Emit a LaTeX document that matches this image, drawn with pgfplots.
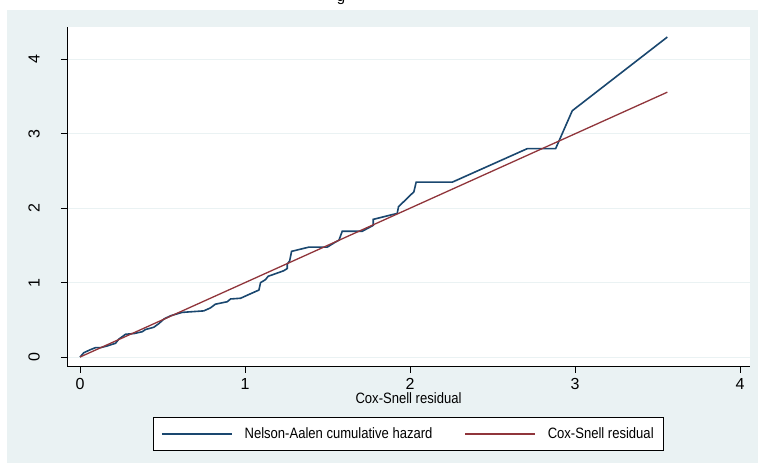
\documentclass[border=0pt]{standalone}
\usepackage{fontspec}
\setmainfont{Liberation Sans}
\newfontfamily\condensed[FakeStretch=0.87]{Liberation Sans}
\usepackage{pgfplots}
\pgfplotsset{compat=1.18}
\definecolor{sNavy}{RGB}{26,71,111}
\definecolor{sMaroon}{RGB}{144,53,59}
\definecolor{sBg}{RGB}{234,242,243}
\definecolor{sGrid}{RGB}{234,242,243}
\begin{document}
\begin{tikzpicture}[x=1pt,y=1pt]
\useasboundingbox (0,0) rectangle (758,463);
\fill[white] (0,0) rectangle (758,463);
\fill[sBg] (7,0) rectangle (758,453);
\node[font=\fontsize{15}{15}\selectfont, anchor=base, inner sep=0pt] at (341,461) {g};
\begin{axis}[
  at={(67pt,96.3pt)}, anchor=south west,
  scale only axis, width=683pt, height=339.7pt,
  xmin=-0.079, xmax=4.06, ymin=-0.13, ymax=4.435,
  axis x line*=bottom, axis y line*=left,
  axis line style={black, line width=0.9pt, -},
  axis background/.style={fill=white},
  xtick={0,1,2,3,4}, ytick={0,1,2,3,4},
  tick align=outside, major tick length=6pt,
  tick style={black, line width=0.9pt},
  ymajorgrids, grid style={sGrid, line width=1pt},
  /pgf/number format/assume math mode=true,
  ticklabel style={font=\fontsize{16}{16}\selectfont},
  xticklabel style={anchor=center, inner sep=0pt, yshift=-11.3pt},
  yticklabel style={xshift=-27pt, rotate=90, anchor=center, inner sep=0pt},
  xlabel={Cox-Snell residual},
  xlabel style={at={(axis description cs:0.5,-0.092)}, anchor=center, inner sep=0pt, font=\condensed\fontsize{15}{15}\selectfont},
  legend columns=2,
  legend cell align=left,
  legend style={at={(0.5,-0.198)}, anchor=center, draw=black, line width=0.8pt, fill=white,
    font=\condensed\fontsize{15}{15}\selectfont,
    /tikz/every odd column/.append style={column sep=10pt},
    /tikz/every even column/.append style={column sep=30pt},
    inner xsep=7.5pt, inner ysep=8.5pt},
  legend image code/.code={\draw[#1, line width=1.3pt] (0pt,0pt) -- (70pt,0pt);},
]
\addplot[sNavy, line width=1.6pt] coordinates {
(0,0) (0.023,0.058) (0.064,0.10) (0.094,0.126) (0.124,0.126) (0.165,0.149)
(0.215,0.185) (0.235,0.24) (0.276,0.306) (0.326,0.315) (0.377,0.34) (0.397,0.37)
(0.447,0.40) (0.478,0.45) (0.508,0.51) (0.548,0.554) (0.619,0.60) (0.75,0.62)
(0.79,0.66) (0.82,0.71) (0.892,0.743) (0.912,0.78) (0.973,0.79) (1.023,0.84)
(1.084,0.90) (1.094,1.0) (1.124,1.04) (1.14,1.085) (1.185,1.12) (1.235,1.16)
(1.256,1.19) (1.256,1.25) (1.27,1.29) (1.282,1.42) (1.387,1.477) (1.498,1.477)
(1.548,1.545) (1.569,1.57) (1.589,1.69) (1.71,1.69) (1.777,1.77) (1.777,1.85)
(1.922,1.93) (1.93,2.02) (2.023,2.22) (2.037,2.35) (2.256,2.35) (2.71,2.80)
(2.882,2.80) (2.983,3.31) (3.559,4.30)
};
\addlegendentry{Nelson-Aalen cumulative hazard}
\addplot[sMaroon, line width=1.3pt] coordinates {(0,0) (3.559,3.559)};
\addlegendentry{Cox-Snell residual}
\end{axis}
\end{tikzpicture}
\end{document}
